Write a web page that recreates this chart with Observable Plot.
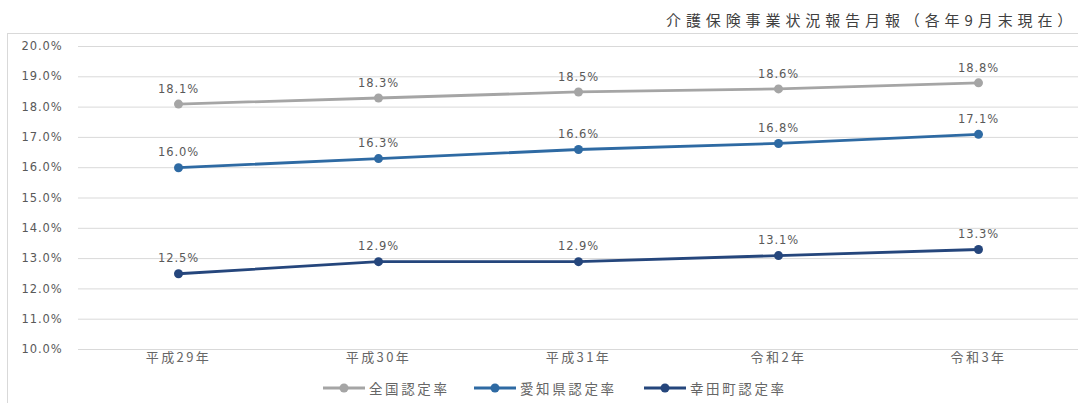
<!DOCTYPE html>
<html><head><meta charset="utf-8">
<script src="https://cdn.jsdelivr.net/npm/d3@7"></script>
<script src="https://cdn.jsdelivr.net/npm/@observablehq/plot@0.6"></script>
<style>
body{margin:0;background:#fff;font-family:"DejaVu Sans","Noto Sans CJK JP",sans-serif;color:#595959;}
#wrap{position:relative;width:1078px;height:403px;overflow:hidden;}
#title{position:relative;height:33px;}
#title span{position:absolute;left:666px;top:11px;font-family:"Noto Sans CJK JP",sans-serif;font-size:15px;line-height:18px;letter-spacing:4.9px;white-space:nowrap;color:#404040;}
#frame{margin-left:7px;border-left:1px solid #d9d9d9;border-top:1px solid #d9d9d9;width:1071px;height:369px;}
#legend{position:relative;height:33px;font-family:"Noto Sans CJK JP",sans-serif;font-size:13.5px;letter-spacing:2.6px;color:#666;}
.item{position:absolute;top:8px;display:flex;align-items:center;white-space:nowrap;}
.item svg{margin-right:4px;}
#chart g[aria-label="x-axis tick label"] text{letter-spacing:2.4px;}
</style></head>
<body><div id="wrap">
<div id="title"><span>介護保険事業状況報告月報（各年9月末現在）</span></div>
<div id="frame"><div id="chart"></div><div id="legend"></div></div>
</div>
<script>
const years = ["平成29年","平成30年","平成31年","令和2年","令和3年"];
const seriesNames = ["全国認定率","愛知県認定率","幸田町認定率"];
const national = [18.1,18.3,18.5,18.6,18.8];
const aichi = [16.0,16.3,16.6,16.8,17.1];
const koda = [12.5,12.9,12.9,13.1,13.3];
const yTicks = [10,11,12,13,14,15,16,17,18,19,20];
const colors = ["#a5a5a5","#2e6aa3","#25467c"];

const data = [];
[national, aichi, koda].forEach((vals, s) => vals.forEach((v, i) => data.push({year: years[i], value: v, series: seriesNames[s]})));

const fmt = d => d.toFixed(1) + "%";
const chart = Plot.plot({
  width: 1070, height: 336,
  marginLeft: 70, marginRight: 0, marginTop: 12, marginBottom: 21,
  style: {fontFamily: '"DejaVu Sans","Noto Sans CJK JP",sans-serif', fontSize: "11.5px", color: "#595959", letterSpacing: "0.9px", background: "transparent"},
  x: {type: "point", domain: years, label: null},
  y: {domain: [10, 20], label: null},
  color: {domain: seriesNames, range: colors},
  marks: [
    Plot.gridY(yTicks, {stroke: "#d9d9d9", strokeOpacity: 1, strokeWidth: 1}),
    Plot.axisY(yTicks, {tickSize: 0, tickPadding: 16, tickFormat: fmt, fontSize: 11.5, label: null}),
    Plot.axisX({tickSize: 0, tickPadding: 3, fontSize: 13, fontFamily: '"Noto Sans CJK JP",sans-serif', fill: "#666", label: null}),
    Plot.line(data, {x: "year", y: "value", z: "series", stroke: "series", strokeWidth: 2.8}),
    Plot.dot(data, {x: "year", y: "value", fill: "series", r: 4.5}),
    Plot.text(data, {x: "year", y: "value", text: d => fmt(d.value), dy: -15, fill: "#595959", fontSize: 11.5})
  ]
});
document.getElementById("chart").appendChild(chart);

const legend = document.getElementById("legend");
const lefts = [315, 466, 636];
seriesNames.forEach((n, i) => {
  const it = document.createElement("div");
  it.className = "item";
  it.style.left = lefts[i] + "px";
  it.innerHTML = `<svg width="42" height="12"><line x1="0" x2="42" y1="6" y2="6" stroke="${colors[i]}" stroke-width="2.8"/><circle cx="21" cy="6" r="4.5" fill="${colors[i]}"/></svg><span>${n}</span>`;
  legend.appendChild(it);
});
</script>
</body></html>
